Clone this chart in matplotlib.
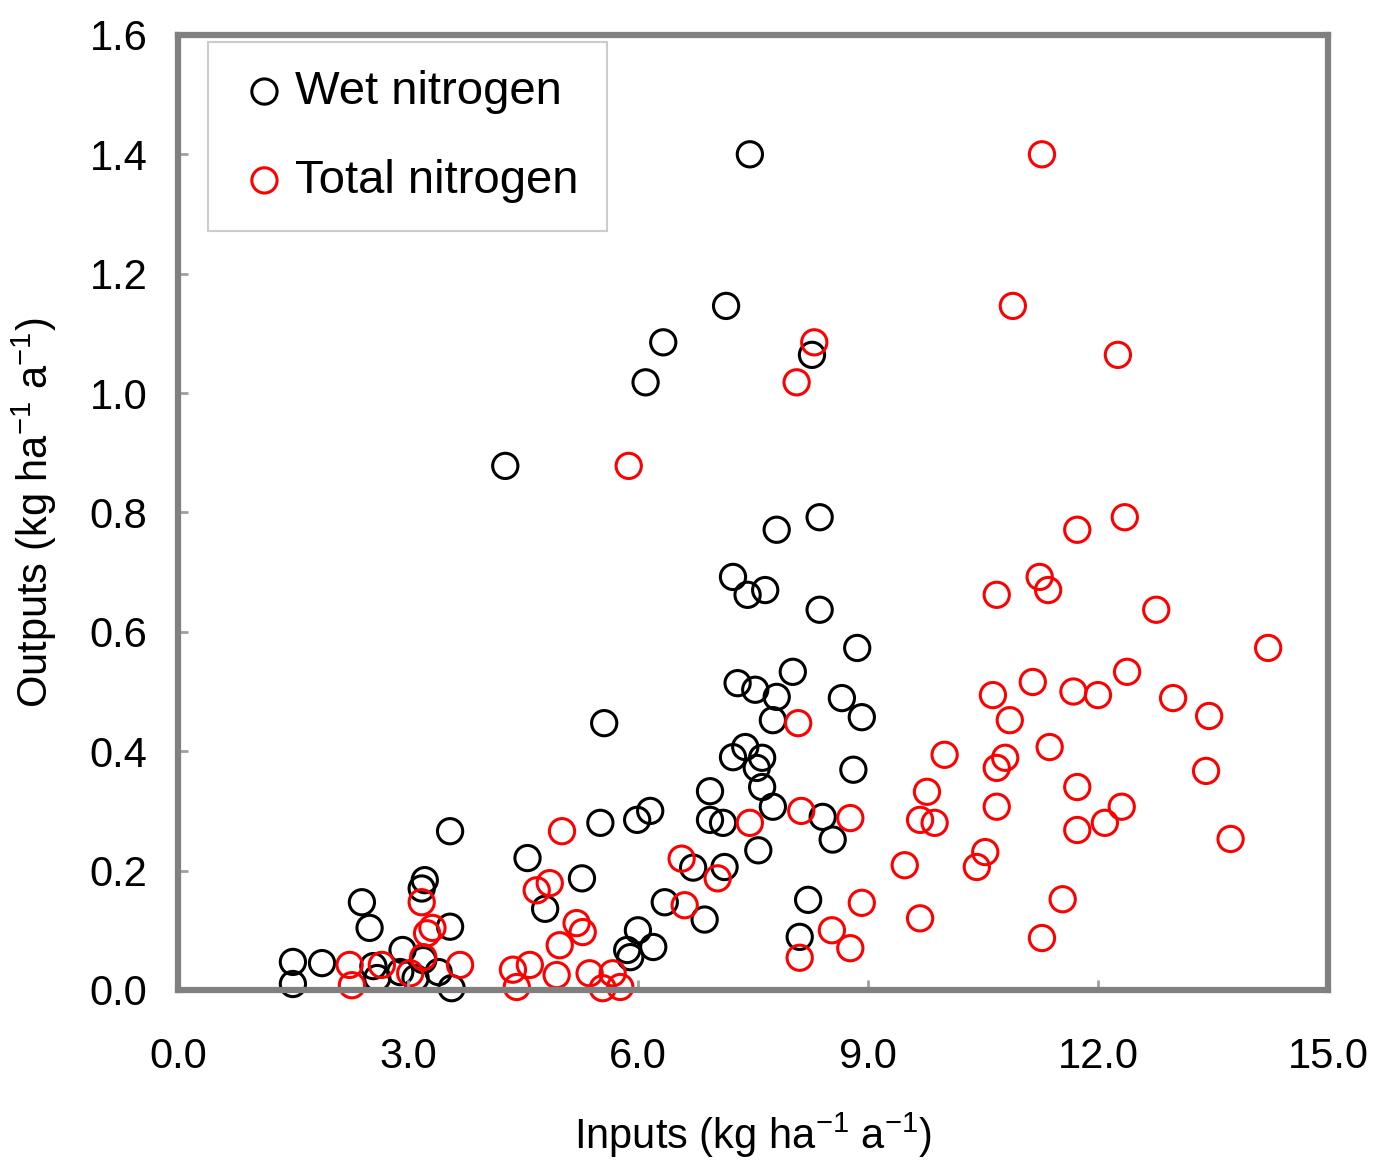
import matplotlib.pyplot as plt
import numpy as np

# Data
wet_x = [7.46, 7.15, 6.33, 8.27, 6.10, 4.27,
         8.37, 7.81, 7.24, 7.43, 7.66, 8.37,
         8.86, 8.02, 7.30, 7.53, 7.81, 8.66,
         8.92, 7.76, 5.56, 7.40, 7.24, 7.62,
         7.55, 8.81, 7.62, 6.94, 7.76, 6.16,
         5.99, 6.94, 7.11, 5.51, 8.41, 3.55,
         8.54, 7.57, 4.56, 6.72, 7.13, 5.27,
         3.22, 3.18, 2.40, 6.35, 8.22, 4.79,
         6.87, 2.50, 3.55, 6.00, 8.11, 6.20, 5.86, 5.90,
         1.50, 1.88, 1.50, 3.57, 2.93, 2.55, 2.90, 3.10, 3.40, 2.60, 3.20]
wet_y = [1.400, 1.146, 1.085, 1.064, 1.018, 0.878,
         0.792, 0.771, 0.692, 0.662, 0.670, 0.637,
         0.573, 0.533, 0.514, 0.503, 0.491, 0.489,
         0.457, 0.452, 0.447, 0.407, 0.390, 0.389,
         0.372, 0.369, 0.340, 0.333, 0.307, 0.300,
         0.285, 0.285, 0.280, 0.280, 0.290, 0.266,
         0.252, 0.234, 0.221, 0.205, 0.206, 0.187,
         0.184, 0.170, 0.147, 0.147, 0.151, 0.136,
         0.118, 0.104, 0.106, 0.100, 0.089, 0.072, 0.067, 0.055,
         0.047, 0.045, 0.010, 0.003, 0.067, 0.040, 0.030, 0.020, 0.030, 0.020, 0.050]

total_x = [11.27, 10.89, 8.30, 12.26, 8.07, 5.88,
           12.35, 11.73, 11.24, 10.68, 11.35, 12.76,
           14.22, 12.38, 11.15, 11.68, 10.63, 12.00, 12.98,
           13.45, 10.85, 8.09, 11.37, 10.00, 10.79,
           10.68, 13.41, 11.73, 9.77, 10.68, 12.31, 8.13,
           9.68, 8.77, 9.87, 7.46, 12.09, 11.73, 5.01,
           13.73, 10.53, 6.57, 10.42, 9.48, 7.04, 4.85,
           4.68, 3.18, 11.54, 8.92, 6.61, 9.68, 5.20,
           3.32, 5.28, 8.53, 11.27, 8.77, 8.11,
           2.24, 2.66, 2.27, 3.03, 3.20, 3.68, 3.25,
           4.37, 4.59, 4.94, 4.98, 5.37, 5.67, 5.54, 5.77, 4.42]
total_y = [1.400, 1.146, 1.085, 1.064, 1.018, 0.878,
           0.792, 0.771, 0.692, 0.662, 0.670, 0.637,
           0.573, 0.533, 0.516, 0.500, 0.494, 0.494, 0.489,
           0.459, 0.452, 0.447, 0.407, 0.394, 0.389,
           0.372, 0.367, 0.340, 0.332, 0.307, 0.307, 0.300,
           0.285, 0.288, 0.280, 0.280, 0.280, 0.268, 0.266,
           0.253, 0.231, 0.220, 0.206, 0.209, 0.187, 0.179,
           0.167, 0.147, 0.152, 0.146, 0.142, 0.120, 0.112,
           0.104, 0.097, 0.100, 0.087, 0.070, 0.054,
           0.042, 0.042, 0.008, 0.028, 0.055, 0.042, 0.095,
           0.034, 0.042, 0.025, 0.075, 0.028, 0.028, 0.003, 0.005, 0.005]

x_ticks = [0, 3, 6, 9, 12, 15]
y_ticks = [0.0, 0.2, 0.4, 0.6, 0.8, 1.0, 1.2, 1.4, 1.6]

plt.rcParams['font.family'] = ['Liberation Sans', 'DejaVu Sans']
plt.rcParams['mathtext.default'] = 'regular'

fig = plt.figure(figsize=(13.79, 11.64), dpi=100)
ax = fig.add_axes([0.129, 0.1495, 0.834, 0.8205])

ax.scatter(wet_x, wet_y, s=330, facecolors='none', edgecolors='black',
           linewidths=2.2, label='Wet nitrogen', clip_on=False)
ax.scatter(total_x, total_y, s=330, facecolors='none', edgecolors='red',
           linewidths=2.2, label='Total nitrogen', clip_on=False)

ax.set_xlim(0, 15)
ax.set_ylim(0, 1.6)
ax.set_xticks(x_ticks)
ax.set_xticklabels(['%.1f' % v for v in x_ticks])
ax.set_yticks(y_ticks)
ax.set_yticklabels(['%.1f' % v for v in y_ticks])

for sp in ax.spines.values():
    sp.set_color('#808080')
    sp.set_linewidth(4.5)

ax.tick_params(axis='x', direction='in', length=7, width=2, color='#a0a0a0',
               labelsize=30, pad=34)
ax.tick_params(axis='y', direction='in', length=7, width=2, color='#a0a0a0',
               labelsize=30, pad=22)

ax.set_xlabel('Inputs (kg ha$^{-1}$ a$^{-1}$)', fontsize=30, labelpad=24)
ax.set_ylabel('Outputs (kg ha$^{-1}$ a$^{-1}$)', fontsize=30, labelpad=22)

leg = ax.legend(loc='upper left', bbox_to_anchor=(0.026, 0.993), borderaxespad=0,
                fontsize=34, frameon=True, fancybox=False, labelspacing=0.95,
                handletextpad=0.05, borderpad=0.6, handlelength=1.2)
leg.get_frame().set_edgecolor('#c0c0c0')
leg.get_frame().set_linewidth(1.5)

plt.savefig('out.png', dpi=100)
